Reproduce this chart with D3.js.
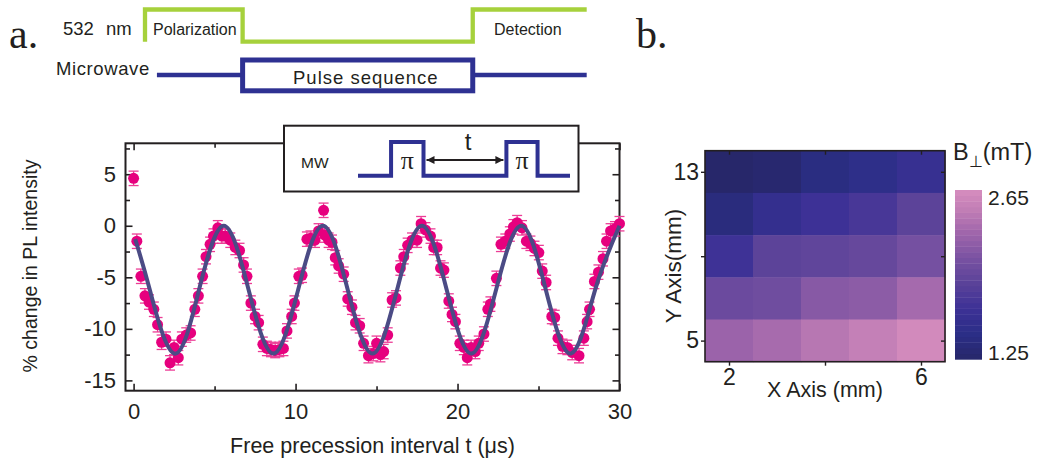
<!DOCTYPE html>
<html>
<head>
<meta charset="utf-8">
<script src="https://cdn.jsdelivr.net/npm/d3@7"></script>
<style>
  body { margin: 0; background: #fff; }
  svg { display: block; }
  text { font-family: "Liberation Sans", Arial, sans-serif; fill: #231f20; }
</style>
</head>
<body>
<svg id="fig" width="1042" height="461"></svg>
<script>
// ---- data ----
// Ramsey fringes: free precession time (us) and % change in PL
const times = [0.0, 0.2, 0.45, 0.7, 0.95, 1.25, 1.48, 1.73, 2.0, 2.25, 2.5, 2.76, 2.98, 3.25, 3.52, 3.78, 4.0, 4.26, 4.47, 4.72,
  4.93, 5.2, 5.45, 5.66, 5.97, 6.28, 6.54, 6.79, 7.0, 7.24, 7.5, 7.72, 7.98, 8.23, 8.48, 8.74, 9.0, 9.25, 9.47, 9.76,
  9.93, 10.2, 10.4, 10.7, 10.92, 11.2, 11.42, 11.73, 11.8, 12.04, 12.25, 12.45, 12.66, 12.97, 13.22, 13.48, 13.7, 13.96, 14.2, 14.5,
  14.8, 15.0, 15.24, 15.44, 15.69, 15.96, 16.2, 16.47, 16.68, 16.92, 17.19, 17.5, 17.75, 18.02, 18.33, 18.53, 18.74, 18.95, 19.16, 19.46,
  19.66, 19.87, 20.14, 20.39, 20.6, 20.84, 21.1, 21.31, 21.63, 21.87, 22.03, 22.4, 22.68, 22.95, 23.23, 23.45, 23.68, 23.98, 24.25, 24.5,
  24.75, 25.02, 25.23, 25.47, 25.82, 26.0, 26.2, 26.48, 26.78, 27.08, 27.5, 27.8, 28.0, 28.15, 28.45, 28.7, 28.98, 29.2, 29.45, 29.72, 30.0]
const signal = [4.6, -1.5, -4.9, -6.8, -7.4, -8.1, -9.6, -11.3, -11.0, -13.3, -11.8, -12.8, -11.0, -10.6, -10.4, -8.1, -6.8, -4.9, -3.0, -1.8,
  -1.0, -0.2, -1.0, -1.0, -1.4, -2.1, -2.4, -3.8, -4.9, -7.5, -8.8, -9.4, -11.5, -11.9, -12.0, -12.1, -12.0, -11.9, -10.2, -8.8,
  -7.5, -4.9, -4.8, -1.3, -1.2, -1.4, -0.5, 1.5, -0.9, -1.4, -1.6, -3.1, -3.9, -4.7, -7.1, -7.9, -9.4, -9.7, -11.4, -12.6,
  -12.4, -11.4, -12.5, -12.2, -10.6, -7.2, -7.0, -4.1, -3.0, -1.9, -1.4, -1.4, 0.2, -0.4, -1.0, -2.1, -2.1, -4.1, -4.3, -7.3,
  -8.6, -9.3, -11.4, -11.8, -12.8, -11.8, -12.2, -11.4, -10.5, -8.1, -7.6, -5.1, -1.8, -1.5, -0.8, -0.1, 0.3, -0.2, -1.5, -1.7,
  -2.2, -2.6, -4.4, -5.5, -8.8, -8.9, -10.9, -11.7, -11.8, -12.3, -12.6, -10.9, -9.3, -8.1, -5.4, -4.5, -3.2, -1.5, -0.5, -0.3, 0.2]
const errBar = 0.7
// fitted curve, read at its peaks, troughs and mid crossings
const fitT = [0.1, 1.0, 2.52, 4.04, 5.57, 7.1, 8.63, 10.16, 11.69, 13.22, 14.75, 16.27, 17.8, 19.33, 20.85, 22.38, 23.93, 25.45, 27.0, 28.5, 30.0]
const fitV = [-1.3, -6.2, -12.4, -6.2, 0, -6.2, -12.4, -6.2, 0, -6.2, -12.4, -6.2, 0, -6.2, -12.4, -6.2, 0, -6.2, -12.4, -6.2, 0]
const xTicks = [0, 10, 20, 30]
const xMinor = [5, 15, 25]
const yTicks = [-15, -10, -5, 0, 5]
const yMinor = [-12.5, -7.5, -2.5, 2.5, 7.5]

// B-field map (mT), rows top to bottom
const heatX = [2, 3, 4, 5, 6]
const heatY = [13, 11, 9, 7, 5]
const heatB = [
  [1.25, 1.29, 1.42, 1.50, 1.60],
  [1.39, 1.56, 1.67, 1.75, 1.89],
  [1.68, 1.89, 1.92, 1.96, 2.06],
  [1.99, 2.02, 2.16, 2.19, 2.33],
  [2.27, 2.34, 2.43, 2.51, 2.62]
]
const heatXTicks = [2, 4, 6]
const heatYTicks = [5, 9, 13]
const cbarStops = [1.25, 1.46, 1.67, 1.88, 2.09, 2.30, 2.48, 2.65]
const cbarColors = ['#27276a', '#2b2e86', '#3d3196', '#5a4299', '#7a52a2', '#a066ab', '#c07db5', '#d68dbe']

// pulse schematic (time units 0..100, level 0/1)
const laserSteps = [[0, 0], [0, 1], [22.1, 1], [22.1, 0], [74.2, 0], [74.2, 1], [100, 1]]
const mwLine = [[2.7, 22.1], [74.2, 100]]
const mwBox = [22.1, 74.2]
const piSteps = [[0, 0], [15.6, 0], [15.6, 1], [30.9, 1], [30.9, 0], [70, 0], [70, 1], [84.7, 1], [84.7, 0], [100, 0]]

const ink = '#231f20'
const green = '#a6d13c'
const navy = '#2e3192'
const pink = '#e6007e'

const svg = d3.select('#fig')
svg.append('rect').attr('width', 1042).attr('height', 461).attr('fill', '#fff')

// panel letters
svg.append('text').attr('x', 9).attr('y', 48).style('font-family', '"Liberation Serif", serif').attr('font-size', 42).text('a.')
svg.append('text').attr('x', 636).attr('y', 48).style('font-family', '"Liberation Serif", serif').attr('font-size', 42).text('b.')

// ---- pulse sequence schematic ----
let sx = d3.scaleLinear().domain([0, 100]).range([145, 586.7])
let laserY = d3.scaleLinear().domain([0, 1]).range([41.7, 9.5])
svg.append('path').datum(laserSteps)
  .attr('d', d3.line().x(d => sx(d[0])).y(d => laserY(d[1])))
  .attr('fill', 'none').attr('stroke', green).attr('stroke-width', 4.3)
for (let seg of mwLine) {
  svg.append('line').attr('x1', sx(seg[0])).attr('x2', sx(seg[1])).attr('y1', 75).attr('y2', 75)
    .attr('stroke', navy).attr('stroke-width', 4.6)
}
svg.append('rect').attr('x', sx(mwBox[0])).attr('y', 60).attr('width', sx(mwBox[1]) - sx(mwBox[0])).attr('height', 30.8)
  .attr('fill', 'none').attr('stroke', navy).attr('stroke-width', 5)
svg.append('text').attr('x', 63).attr('y', 35).attr('font-size', 18.5).text('532')
svg.append('text').attr('x', 106).attr('y', 35).attr('font-size', 18.5).text('nm')
svg.append('text').attr('x', 56).attr('y', 75).attr('font-size', 18.5).attr('letter-spacing', 0.6).text('Microwave')
svg.append('text').attr('x', 153).attr('y', 35).attr('font-size', 16).text('Polarization')
svg.append('text').attr('x', 494).attr('y', 35).attr('font-size', 16).text('Detection')
svg.append('text').attr('x', 293).attr('y', 83.5).attr('font-size', 18.5).attr('letter-spacing', 1).text('Pulse sequence')

// ---- main plot ----
const x = d3.scaleLinear().domain([-0.5, 30]).range([125.5, 619.5])
const y = d3.scaleLinear().domain([-16, 8]).range([390.7, 143.3])
const plot = svg.append('g')

function styleAxis(g) {
  g.select('.domain').remove()
  g.selectAll('line').attr('stroke', ink).attr('stroke-width', 1.6)
  g.selectAll('text').attr('fill', ink).style('font-family', '"Liberation Sans", Arial, sans-serif').attr('font-size', 22)
}
plot.append('g').attr('transform', 'translate(' + x.range()[0] + ',0)')
  .call(d3.axisLeft(y).tickValues(yTicks).tickSize(-7).tickPadding(9.5).tickFormat(d => String(d))).call(styleAxis)
plot.append('g').attr('transform', 'translate(' + x.range()[0] + ',0)')
  .call(d3.axisLeft(y).tickValues(yMinor).tickSize(-4.5).tickFormat('')).call(styleAxis)
plot.append('g').attr('transform', 'translate(' + x.range()[1] + ',0)')
  .call(d3.axisRight(y).tickValues(yTicks).tickSize(-7).tickFormat('')).call(styleAxis)
plot.append('g').attr('transform', 'translate(' + x.range()[1] + ',0)')
  .call(d3.axisRight(y).tickValues(yMinor).tickSize(-4.5).tickFormat('')).call(styleAxis)
plot.append('g').attr('transform', 'translate(0,' + y.range()[0] + ')')
  .call(d3.axisBottom(x).tickValues(xTicks).tickSize(-7).tickPadding(12.7).tickFormat(d => String(d))).call(styleAxis)
plot.append('g').attr('transform', 'translate(0,' + y.range()[0] + ')')
  .call(d3.axisBottom(x).tickValues(xMinor).tickSize(-4.5).tickFormat('')).call(styleAxis)
plot.append('g').attr('transform', 'translate(0,' + y.range()[1] + ')')
  .call(d3.axisTop(x).tickValues(xTicks).tickSize(-7).tickFormat('')).call(styleAxis)
plot.append('g').attr('transform', 'translate(0,' + y.range()[1] + ')')
  .call(d3.axisTop(x).tickValues(xMinor).tickSize(-4.5).tickFormat('')).call(styleAxis)
plot.append('rect').attr('x', x.range()[0]).attr('y', y.range()[1])
  .attr('width', x.range()[1] - x.range()[0]).attr('height', y.range()[0] - y.range()[1])
  .attr('fill', 'none').attr('stroke', ink).attr('stroke-width', 2)

// axis titles
plot.append('text').attr('x', 372.5).attr('y', 453).attr('text-anchor', 'middle').attr('font-size', 21.5)
  .text('Free precession interval t (\u03bcs)')
plot.append('text').attr('transform', 'translate(37,266) rotate(-90)').attr('text-anchor', 'middle').attr('font-size', 19.5)
  .text('% change in PL intensity')

// error bars + points
const pts = times.map((t, i) => ({ t: t, v: signal[i] }))
const eb = plot.append('g').attr('stroke', '#ec3d96').attr('stroke-width', 1.3)
eb.selectAll('line.v').data(pts).enter().append('line')
  .attr('x1', d => x(d.t)).attr('x2', d => x(d.t)).attr('y1', d => y(d.v - errBar)).attr('y2', d => y(d.v + errBar))
eb.selectAll('line.top').data(pts).enter().append('line')
  .attr('x1', d => x(d.t) - 5).attr('x2', d => x(d.t) + 5).attr('y1', d => y(d.v + errBar)).attr('y2', d => y(d.v + errBar))
eb.selectAll('line.bot').data(pts).enter().append('line')
  .attr('x1', d => x(d.t) - 5).attr('x2', d => x(d.t) + 5).attr('y1', d => y(d.v - errBar)).attr('y2', d => y(d.v - errBar))
plot.append('g').selectAll('circle').data(pts).enter().append('circle')
  .attr('cx', d => x(d.t)).attr('cy', d => y(d.v)).attr('r', 5.5).attr('fill', pink)

// fit
plot.append('path').datum(fitT.map((t, i) => [t, fitV[i]]))
  .attr('d', d3.line().x(d => x(d[0])).y(d => y(d[1])).curve(d3.curveNatural))
  .attr('fill', 'none').attr('stroke', '#4b4b85').attr('stroke-width', 4)

// ---- inset ----
const inset = svg.append('g')
inset.append('rect').attr('x', 284).attr('y', 125.7).attr('width', 294.5).attr('height', 65.8)
  .attr('fill', '#fff').attr('stroke', ink).attr('stroke-width', 2)
inset.append('text').attr('x', 301).attr('y', 167.5).attr('font-size', 15.5).text('MW')
let ix = d3.scaleLinear().domain([0, 100]).range([358, 570])
let iy = d3.scaleLinear().domain([0, 1]).range([175.7, 142])
inset.append('path').datum(piSteps)
  .attr('d', d3.line().x(d => ix(d[0])).y(d => iy(d[1])))
  .attr('fill', 'none').attr('stroke', navy).attr('stroke-width', 4)
inset.append('text').attr('x', (ix(15.6) + ix(30.9)) / 2).attr('y', 169).attr('text-anchor', 'middle')
  .style('font-family', '"Liberation Serif", serif').attr('font-size', 26).text('\u03c0')
inset.append('text').attr('x', (ix(70) + ix(84.7)) / 2).attr('y', 169).attr('text-anchor', 'middle')
  .style('font-family', '"Liberation Serif", serif').attr('font-size', 26).text('\u03c0')
svg.append('defs').append('marker').attr('id', 'ah').attr('viewBox', '0 0 10 10').attr('refX', 10).attr('refY', 5)
  .attr('markerWidth', 10).attr('markerHeight', 8).attr('markerUnits', 'userSpaceOnUse').attr('orient', 'auto-start-reverse')
  .append('path').attr('d', 'M0,0L10,5L0,10z').attr('fill', ink)
inset.append('line').attr('x1', ix(30.9) + 3).attr('x2', ix(70) - 3).attr('y1', 160).attr('y2', 160)
  .attr('stroke', ink).attr('stroke-width', 2).attr('marker-start', 'url(#ah)').attr('marker-end', 'url(#ah)')
inset.append('text').attr('x', 468).attr('y', 150).attr('text-anchor', 'middle').attr('font-size', 24).text('t')

// ---- panel b: heat map ----
const hx = d3.scaleLinear().domain([1.5, 6.5]).range([705, 945])
const hy = d3.scaleLinear().domain([4, 14]).range([361.7, 150.7])
const color = d3.scaleLinear().domain(cbarStops).range(cbarColors).interpolate(d3.interpolateRgb)
const cells = []
heatY.forEach((yy, r) => heatX.forEach((xx, c) => cells.push({ x: xx, y: yy, b: heatB[r][c] })))
const hm = svg.append('g')
hm.selectAll('rect.cell').data(cells).enter().append('rect')
  .attr('x', d => hx(d.x - 0.5)).attr('y', d => hy(d.y + 1))
  .attr('width', hx(1.5) - hx(0.5) + 0.5).attr('height', hy(0) - hy(2) + 0.5)
  .attr('fill', d => color(d.b))

function styleHeat(g) {
  g.select('.domain').remove()
  g.selectAll('line').attr('stroke', ink).attr('stroke-width', 1.4)
  g.selectAll('text').attr('fill', ink).style('font-family', '"Liberation Sans", Arial, sans-serif').attr('font-size', 23)
}
hm.append('g').attr('transform', 'translate(705,0)')
  .call(d3.axisLeft(hy).tickValues(heatYTicks).tickSize(4).tickPadding(2).tickFormat(d => d === 9 ? '' : String(d))).call(styleHeat)
hm.append('g').attr('transform', 'translate(945,0)')
  .call(d3.axisRight(hy).tickValues(heatYTicks).tickSize(-4).tickFormat('')).call(styleHeat)
hm.append('g').attr('transform', 'translate(0,361.7)')
  .call(d3.axisBottom(hx).tickValues(heatXTicks).tickSize(4).tickPadding(3).tickFormat(d => d === 4 ? '' : String(d))).call(styleHeat)
hm.append('g').attr('transform', 'translate(0,150.7)')
  .call(d3.axisTop(hx).tickValues(heatXTicks).tickSize(-4).tickFormat('')).call(styleHeat)
hm.append('rect').attr('x', 705).attr('y', 150.7).attr('width', 240).attr('height', 211)
  .attr('fill', 'none').attr('stroke', ink).attr('stroke-width', 1.6)
hm.append('text').attr('x', 825).attr('y', 397).attr('text-anchor', 'middle').attr('font-size', 21.5).text('X Axis (mm)')
hm.append('text').attr('transform', 'translate(681,266) rotate(-90)').attr('text-anchor', 'middle').attr('font-size', 22.5).text('Y Axis(mm)')

// colour bar
const cy = d3.scaleLinear().domain([1.25, 2.65]).range([359.3, 190])
const nBands = 30
const bandStep = (2.65 - 1.25) / nBands
hm.append('g').selectAll('rect').data(d3.range(nBands)).enter().append('rect')
  .attr('x', 955).attr('width', 27)
  .attr('y', i => cy(1.25 + (i + 1) * bandStep)).attr('height', i => cy(1.25 + i * bandStep) - cy(1.25 + (i + 1) * bandStep) + 0.4)
  .attr('fill', i => color(1.25 + (i + 0.5) * bandStep))
hm.append('text').attr('x', 988).attr('y', 205).attr('font-size', 21).text('2.65')
hm.append('text').attr('x', 988).attr('y', 359.5).attr('font-size', 21).text('1.25')
const bt = hm.append('text').attr('x', 953).attr('y', 160).attr('font-size', 23.5)
bt.append('tspan').text('B')
bt.append('tspan').attr('font-size', 16).attr('dy', 7).text('\u22a5')
bt.append('tspan').attr('dy', -7).text('(mT)')
</script>
</body>
</html>
